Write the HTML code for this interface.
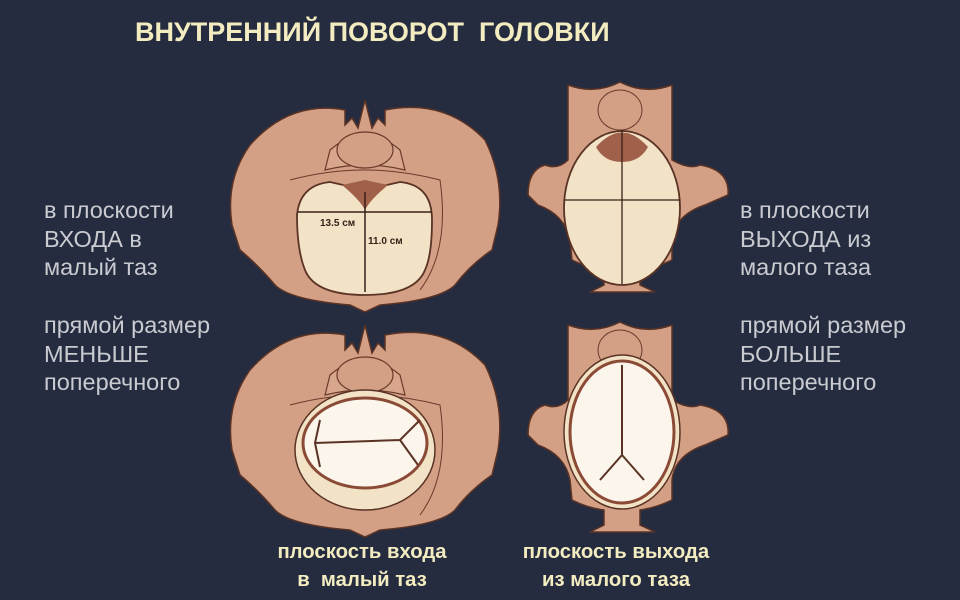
<!DOCTYPE html>
<html><head><meta charset="utf-8"><style>
body{margin:0;width:960px;height:600px;overflow:hidden;background:#262c40;font-family:"Liberation Sans",sans-serif}
.t{position:absolute;white-space:nowrap}
.lab{color:#c9cbd0;font-size:23.5px;line-height:28.5px}
.cap{color:#f2ecc0;font-weight:bold;font-size:20.3px;line-height:28px;text-align:center;width:260px}
</style></head><body>
<svg width="960" height="600" style="position:absolute;left:0;top:0">
<defs>
<g id="inlet">
<path d="M250 145 Q290 100 345 110 L345 125 L352 118 L358 128 L365 100 L372 128 L378 118 L385 125 L385 110 Q445 98 485 140 Q505 180 498 225 L492 250 Q470 265 455 285 Q440 300 380 305 L365 312 L350 305 Q290 300 275 285 Q258 265 240 250 L232 225 Q225 180 250 145Z" fill="#d3a086" stroke="#5a3325" stroke-width="1.5"/>
<path d="M330 150 Q365 120 400 150 L405 170 Q365 160 325 170Z" fill="#d8a68c" stroke="#6a3a2a" stroke-width="1.2"/>
<ellipse cx="365" cy="150" rx="28" ry="18" fill="#d3a086" stroke="#6a3a2a" stroke-width="1.2"/>
<path d="M290 180 Q365 160 440 180 Q450 250 420 290" fill="none" stroke="#6a3a2a" stroke-width="1"/>
</g>
<g id="outlet">
<path d="M568 85 Q595 95 620 82 Q645 95 672 85 L672 160 Q690 170 700 165 Q730 170 728 195 L705 205 Q675 215 672 240 L672 260 Q655 268 640 270 L640 285 L655 292 L590 292 L604 285 L604 270 Q588 268 572 260 L570 240 Q565 215 538 205 L528 195 Q528 170 545 165 Q558 170 568 160Z" fill="#d3a086" stroke="#5a3325" stroke-width="1.5"/>
<ellipse cx="620" cy="110" rx="22" ry="20" fill="#d3a086" stroke="#6a3a2a" stroke-width="1"/>
</g>
</defs>
<use href="#inlet"/>
<path d="M297 215 Q300 185 330 182 L365 190 L400 182 Q432 185 432 220 Q432 255 425 270 Q415 295 365 295 Q315 295 305 270 Q297 250 297 215Z" fill="#f2e3c6" stroke="#5a3325" stroke-width="1.8"/>
<path d="M342 185 Q360 200 365 210 Q370 200 388 185 L365 180Z" fill="#a0604a"/>
<line x1="298" y1="212" x2="432" y2="212" stroke="#3a2018" stroke-width="1.5"/>
<line x1="365" y1="192" x2="365" y2="292" stroke="#3a2018" stroke-width="1.5"/>
<text x="320" y="226" font-size="10" font-weight="bold" fill="#3a2018" font-family="Liberation Sans">13.5 см</text>
<text x="368" y="244" font-size="10" font-weight="bold" fill="#3a2018" font-family="Liberation Sans">11.0 см</text>
<use href="#outlet"/>
<ellipse cx="622" cy="208" rx="58" ry="77" fill="#f2e3c6" stroke="#5a3325" stroke-width="1.8"/>
<path d="M596 147 Q622 118 648 147 Q640 162 622 162 Q604 162 596 147Z" fill="#a0604a"/>
<line x1="565" y1="200" x2="680" y2="200" stroke="#3a2018" stroke-width="1.3"/>
<line x1="622" y1="130" x2="622" y2="284" stroke="#3a2018" stroke-width="1.3"/>
<g transform="translate(0,225)"><use href="#inlet"/>
<ellipse cx="365" cy="225" rx="70" ry="60" fill="#f2e3c6" stroke="#5a3325" stroke-width="1.5"/>
<ellipse cx="365" cy="218" rx="62" ry="45" fill="#fbf5ec" stroke="#8a4a35" stroke-width="3"/>
<path d="M315 218 L400 215 L420 195 M400 215 L418 240 M320 195 L315 218 L320 242" stroke="#5a3325" stroke-width="2" fill="none"/>
</g>
<g transform="translate(0,240)"><use href="#outlet"/>
<ellipse cx="622" cy="192" rx="58" ry="77" fill="#f2e3c6" stroke="#5a3325" stroke-width="1.5"/>
<ellipse cx="622" cy="192" rx="52" ry="71" fill="#fbf5ec" stroke="#8a4a35" stroke-width="3"/>
<path d="M622 125 L622 215 L600 240 M622 215 L644 240" stroke="#5a3325" stroke-width="2" fill="none"/>
</g>
</svg>
<div class="t" style="left:135px;top:17px;color:#f2ecc0;font-weight:bold;font-size:27px">ВНУТРЕННИЙ ПОВОРОТ&nbsp; ГОЛОВКИ</div>
<div class="t lab" style="left:44px;top:196px">в плоскости<br>ВХОДА в<br>малый таз</div>
<div class="t lab" style="left:44px;top:311px">прямой размер<br>МЕНЬШЕ<br>поперечного</div>
<div class="t lab" style="left:740px;top:196px">в плоскости<br>ВЫХОДА из<br>малого таза</div>
<div class="t lab" style="left:740px;top:311px">прямой размер<br>БОЛЬШЕ<br>поперечного</div>
<div class="t cap" style="left:232px;top:538px">плоскость входа<br>в&nbsp; малый таз</div>
<div class="t cap" style="left:486px;top:538px">плоскость выхода<br>из малого таза</div>
</body></html>
